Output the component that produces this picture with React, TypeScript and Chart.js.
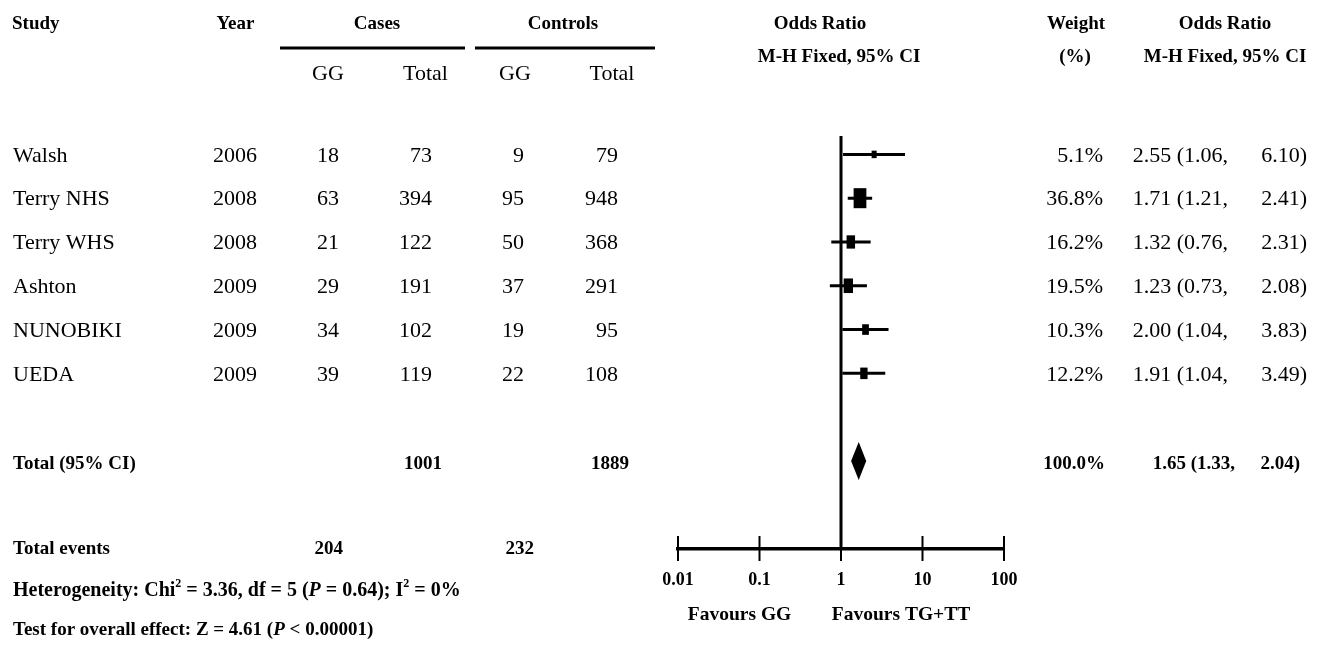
import React, { useEffect, useRef } from "react";
import { Chart, registerables } from "chart.js";

Chart.register(...registerables);

// ---------- data ----------
const studies = ["Walsh", "Terry NHS", "Terry WHS", "Ashton", "NUNOBIKI", "UEDA"];
const years = ["2006", "2008", "2008", "2009", "2009", "2009"];
const casesGG = [18, 63, 21, 29, 34, 39];
const casesTotal = [73, 394, 122, 191, 102, 119];
const controlsGG = [9, 95, 50, 37, 19, 22];
const controlsTotal = [79, 948, 368, 291, 95, 108];
const weights = [5.1, 36.8, 16.2, 19.5, 10.3, 12.2];
const oddsRatios = [2.55, 1.71, 1.32, 1.23, 2.0, 1.91];
const ciLower = [1.06, 1.21, 0.76, 0.73, 1.04, 1.04];
const ciUpper = [6.1, 2.41, 2.31, 2.08, 3.83, 3.49];

const totalOR = [1.65];
const totalLower = [1.33];
const totalUpper = [2.04];
const totalWeight = [100.0];
const totalParticipants = [1001, 1889];
const totalEvents = [204, 232];

const tickValues = [0.01, 0.1, 1, 10, 100];
const tickLabels = ["0.01", "0.1", "1", "10", "100"];

const TOTAL_ROW = 7;

const SERIF = '"Liberation Serif", "Times New Roman", serif';
const NORMAL = `22px ${SERIF}`;
const BOLD = `bold 19px ${SERIF}`;

function txt(ctx: CanvasRenderingContext2D, s: string, x: number, y: number, font: string, align: CanvasTextAlign) {
  ctx.font = font;
  ctx.textAlign = align;
  ctx.textBaseline = "middle";
  ctx.fillText(s, x, y);
}

function runs(ctx: CanvasRenderingContext2D, parts: { t: string; f: string; dy?: number }[], x: number, y: number) {
  let cx = x;
  ctx.textAlign = "left";
  ctx.textBaseline = "middle";
  for (const p of parts) {
    ctx.font = p.f;
    ctx.fillText(p.t, cx, y + (p.dy || 0));
    cx += ctx.measureText(p.t).width;
  }
}

const forestPlugin = {
  id: "forestMarks",
  beforeDatasetsDraw(chart: any) {
    const { ctx, chartArea, scales } = chart;
    const xs = scales.x;
    const x1 = xs.getPixelForValue(1);
    ctx.save();
    ctx.strokeStyle = "#000";
    ctx.lineWidth = 3;
    ctx.beginPath();
    ctx.moveTo(x1, chartArea.top);
    ctx.lineTo(x1, chartArea.bottom);
    ctx.stroke();
    // axis tick marks crossing the axis line
    ctx.lineWidth = 2;
    for (const v of tickValues) {
      const px = xs.getPixelForValue(v);
      ctx.beginPath();
      ctx.moveTo(px, chartArea.bottom - 12.5);
      ctx.lineTo(px, chartArea.bottom + 12.5);
      ctx.stroke();
    }
    ctx.restore();
  },
  afterDatasetsDraw(chart: any) {
    const { ctx, scales } = chart;
    const xs = scales.x;
    const ys = scales.y;
    ctx.save();
    ctx.fillStyle = "#000";
    oddsRatios.forEach((or, i) => {
      const px = xs.getPixelForValue(or);
      const py = ys.getPixelForValue(i);
      const r = Math.sqrt(weights[i]);
      const w = Math.max(5, r * 2.1);
      const h = Math.max(7, r * 3.3);
      ctx.fillRect(px - w / 2, py - h / 2, w, h);
    });
    const dl = xs.getPixelForValue(totalLower[0]);
    const dc = xs.getPixelForValue(totalOR[0]);
    const dr = xs.getPixelForValue(totalUpper[0]);
    const dy = ys.getPixelForValue(TOTAL_ROW);
    ctx.beginPath();
    ctx.moveTo(dl, dy);
    ctx.lineTo(dc, dy - 19);
    ctx.lineTo(dr, dy);
    ctx.lineTo(dc, dy + 19);
    ctx.closePath();
    ctx.fill();
    ctx.restore();
  },
  afterDraw(chart: any) {
    const { ctx, scales } = chart;
    const ys = scales.y;
    ctx.save();
    ctx.fillStyle = "#000";
    ctx.strokeStyle = "#000";

    // header
    txt(ctx, "Study", 12, 24, BOLD, "left");
    txt(ctx, "Year", 235.5, 24, BOLD, "center");
    txt(ctx, "Cases", 377, 24, BOLD, "center");
    txt(ctx, "Controls", 563, 24, BOLD, "center");
    txt(ctx, "Odds Ratio", 820, 24, BOLD, "center");
    txt(ctx, "Weight", 1076, 24, BOLD, "center");
    txt(ctx, "Odds Ratio", 1225, 24, BOLD, "center");
    txt(ctx, "M-H Fixed, 95% CI", 839, 57, BOLD, "center");
    txt(ctx, "(%)", 1075, 57, BOLD, "center");
    txt(ctx, "M-H Fixed, 95% CI", 1225, 57, BOLD, "center");
    ctx.lineWidth = 3;
    ctx.beginPath();
    ctx.moveTo(280, 48);
    ctx.lineTo(465, 48);
    ctx.moveTo(475, 48);
    ctx.lineTo(655, 48);
    ctx.stroke();
    txt(ctx, "GG", 328, 74, NORMAL, "center");
    txt(ctx, "Total", 425.5, 74, NORMAL, "center");
    txt(ctx, "GG", 515, 74, NORMAL, "center");
    txt(ctx, "Total", 612, 74, NORMAL, "center");

    // study rows
    studies.forEach((s, i) => {
      const y = ys.getPixelForValue(i) + 1.5;
      txt(ctx, s, 13, y, NORMAL, "left");
      txt(ctx, years[i], 235, y, NORMAL, "center");
      txt(ctx, String(casesGG[i]), 339, y, NORMAL, "right");
      txt(ctx, String(casesTotal[i]), 432, y, NORMAL, "right");
      txt(ctx, String(controlsGG[i]), 524, y, NORMAL, "right");
      txt(ctx, String(controlsTotal[i]), 618, y, NORMAL, "right");
      txt(ctx, `${weights[i].toFixed(1)}%`, 1103, y, NORMAL, "right");
      txt(ctx, `${oddsRatios[i].toFixed(2)} (${ciLower[i].toFixed(2)},`, 1228, y, NORMAL, "right");
      txt(ctx, `${ciUpper[i].toFixed(2)})`, 1307, y, NORMAL, "right");
    });

    // total row
    const ty = ys.getPixelForValue(TOTAL_ROW) + 3;
    txt(ctx, "Total (95% CI)", 13, ty, BOLD, "left");
    txt(ctx, String(totalParticipants[0]), 442, ty, BOLD, "right");
    txt(ctx, String(totalParticipants[1]), 629, ty, BOLD, "right");
    txt(ctx, `${totalWeight[0].toFixed(1)}%`, 1105, ty, BOLD, "right");
    txt(ctx, `${totalOR[0].toFixed(2)} (${totalLower[0].toFixed(2)},`, 1235, ty, BOLD, "right");
    txt(ctx, `${totalUpper[0].toFixed(2)})`, 1300, ty, BOLD, "right");

    // footer
    txt(ctx, "Total events", 13, 549, BOLD, "left");
    txt(ctx, String(totalEvents[0]), 343, 549, BOLD, "right");
    txt(ctx, String(totalEvents[1]), 534, 549, BOLD, "right");

    const HB = `bold 20px ${SERIF}`;
    const SUP = `bold 12px ${SERIF}`;
    const BI = `italic bold 20px ${SERIF}`;
    runs(ctx, [
      { t: "Heterogeneity: Chi", f: HB },
      { t: "2", f: SUP, dy: -7 },
      { t: " = 3.36, df = 5 (", f: HB },
      { t: "P", f: BI },
      { t: " = 0.64); I", f: HB },
      { t: "2", f: SUP, dy: -7 },
      { t: " = 0%", f: HB },
    ], 13, 591);
    runs(ctx, [
      { t: "Test for overall effect: Z = 4.61 (", f: BOLD },
      { t: "P", f: `italic ${BOLD}` },
      { t: " < 0.00001)", f: BOLD },
    ], 13, 630);

    const FAV = `bold 19.5px ${SERIF}`;
    txt(ctx, "Favours GG", 739.5, 615, FAV, "center");
    txt(ctx, "Favours TG+TT", 901, 615, FAV, "center");
    ctx.restore();
  },
};

export default function App() {
  const ref = useRef<HTMLCanvasElement | null>(null);
  useEffect(() => {
    document.body.style.margin = "0";
    const canvas = ref.current;
    if (!canvas) return;
    const datasets = studies.map((s, i) => ({
      label: s,
      data: [
        { x: ciLower[i], y: i },
        { x: ciUpper[i], y: i },
      ],
      showLine: true,
      borderColor: "#000",
      backgroundColor: "#000",
      borderWidth: 3,
      pointRadius: 0,
      pointHoverRadius: 0,
    }));
    const chart = new Chart(canvas, {
      type: "scatter",
      data: { datasets },
      options: {
        animation: false,
        responsive: false,
        devicePixelRatio: 1,
        events: [],
        layout: { padding: { left: 678, right: 321, top: 136, bottom: 57.5 } },
        plugins: { legend: { display: false }, tooltip: { enabled: false }, title: { display: false } },
        scales: {
          x: {
            type: "logarithmic",
            position: "bottom",
            min: 0.01,
            max: 100,
            grid: { display: false, drawTicks: false },
            border: { display: true, color: "#000", width: 3.5 },
            ticks: {
              autoSkip: false,
              maxRotation: 0,
              padding: 21,
              color: "#000",
              font: { family: SERIF, size: 18, weight: "bold" },
              callback: (_v: any, idx: number) => tickLabels[idx],
            },
            afterBuildTicks: (s: any) => {
              s.ticks = tickValues.map((v) => ({ value: v }));
            },
            afterFit: (s: any) => {
              s.height = 40;
            },
          },
          y: { type: "linear", display: false, min: -0.42, max: 9, reverse: true },
        },
      },
      plugins: [forestPlugin],
    } as any);
    return () => chart.destroy();
  }, []);
  return (
    <div style={{ position: "absolute", left: 0, top: 0, width: 1325, height: 646, background: "#fff" }}>
      <canvas ref={ref} width={1325} height={646} style={{ display: "block" }} />
    </div>
  );
}
